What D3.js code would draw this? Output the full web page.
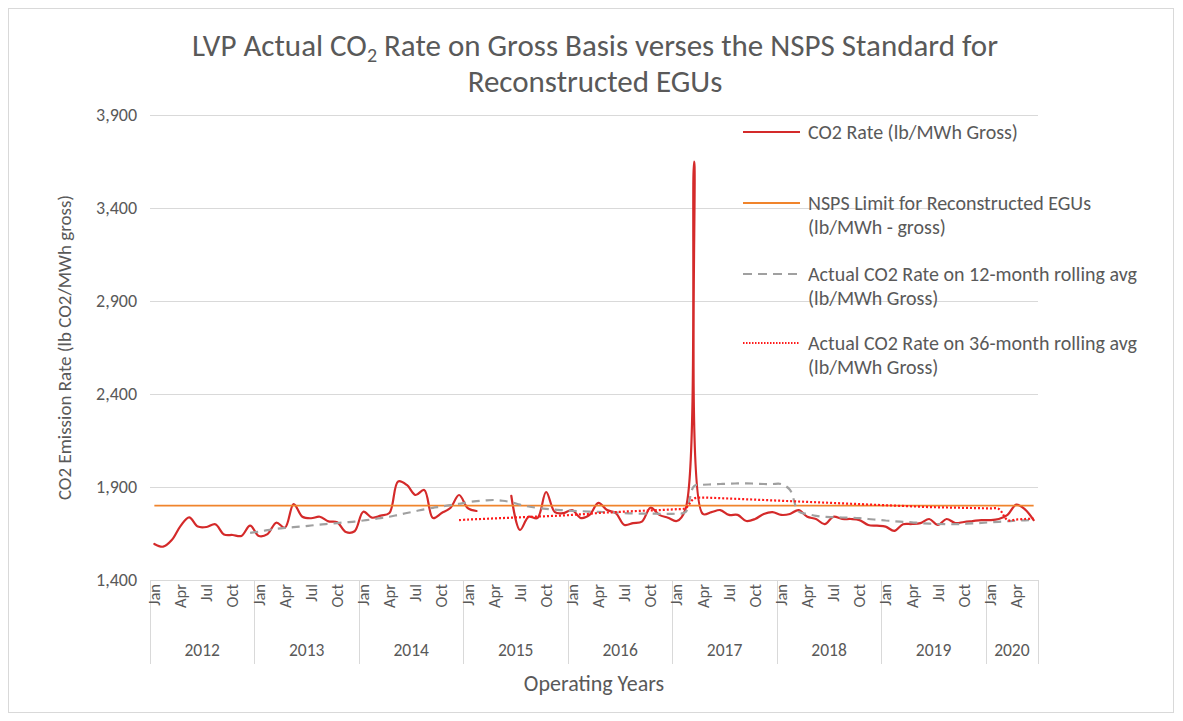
<!DOCTYPE html>
<html><head><meta charset="utf-8">
<script src="https://cdn.jsdelivr.net/npm/d3@7"></script>
<style>body{margin:0;background:#fff;} text{font-family:Carlito, Calibri, Lato, "Open Sans", sans-serif;}</style>
</head><body>
<svg id="chart" width="1183" height="721"></svg>
<script>
// ---------------- data ----------------
const years = [2012, 2013, 2014, 2015, 2016, 2017, 2018, 2019, 2020];
const monthsInYear = [12, 12, 12, 12, 12, 12, 12, 12, 6];
const monthNames = ["Jan","Feb","Mar","Apr","May","Jun","Jul","Aug","Sep","Oct","Nov","Dec"];
const shownMonthLabels = ["Jan","Apr","Jul","Oct"];
const yTicks = [1400, 1900, 2400, 2900, 3400, 3900];

// monthly CO2 rate (lb/MWh gross), Jan 2012 .. Jun 2020 ; null = no data
const co2Rate = [
  1594, 1579, 1615, 1690, 1737, 1687, 1685, 1700, 1645, 1642, 1637, 1692, // 2012
  1637, 1647, 1708, 1681, 1808, 1740, 1732, 1740, 1715, 1710, 1658, 1662, // 2013
  1767, 1735, 1746, 1760, 1930, 1911, 1857, 1884, 1733, 1760, 1787, 1857, // 2014
  1787, 1771, null, null, null, 1853, 1669, 1740, 1733, 1873, 1765, 1760, // 2015
  1776, 1733, 1750, 1815, 1776, 1760, 1696, 1706, 1714, 1789, 1750, 1735, // 2016
  1717, 1780, 3650, 1755, 1765, 1776, 1750, 1750, 1717, 1728, 1755, 1765, // 2017
  1750, 1755, 1776, 1740, 1728, 1700, 1740, 1728, 1728, 1722, 1696, 1692, // 2018
  1687, 1664, 1700, 1701, 1706, 1728, 1696, 1728, 1706, 1712, 1717, 1722, // 2019
  1722, 1728, 1750, 1805, 1780, 1722                                      // 2020
];

const nspsLimit = 1800;

// 12-month rolling average, starts Dec 2012 (month index 11)
const avg12Start = 11;
const avg12 = [
  1653,                                                                   // Dec 2012
  1660, 1668, 1675, 1680, 1684, 1688, 1693, 1698, 1702, 1706, 1710, 1714, // 2013
  1720, 1726, 1733, 1740, 1750, 1760, 1770, 1780, 1788, 1795, 1803, 1810, // 2014
  1818, 1824, 1828, 1830, 1826, 1818, 1805, 1795, 1788, 1782, 1778, 1775, // 2015
  1772, 1770, 1768, 1766, 1765, 1763, 1760, 1758, 1757, 1757, 1756, 1755, // 2016
  1757, 1765, 1905, 1912, 1914, 1916, 1918, 1919, 1920, 1918, 1916, 1916, // 2017
  1916, 1885, 1768, 1755, 1745, 1740, 1738, 1736, 1735, 1733, 1728, 1724, // 2018
  1720, 1716, 1713, 1710, 1706, 1703, 1701, 1700, 1700, 1702, 1704, 1707, // 2019
  1710, 1713, 1716, 1719, 1721, 1722                                      // 2020
];

// 36-month rolling average, starts Dec 2014 (month index 35)
const avg36Start = 35;
const avg36 = [
  1722,                                                                   // Dec 2014
  1725, 1727, 1729, 1731, 1733, 1735, 1737, 1739, 1741, 1743, 1745, 1747, // 2015
  1750, 1753, 1756, 1760, 1763, 1765, 1768, 1770, 1772, 1774, 1776, 1778, // 2016
  1781, 1786, 1838, 1843, 1842, 1840, 1838, 1836, 1834, 1832, 1830, 1828, // 2017
  1826, 1824, 1822, 1820, 1818, 1816, 1814, 1812, 1810, 1808, 1806, 1804, // 2018
  1802, 1800, 1798, 1796, 1794, 1792, 1791, 1790, 1789, 1788, 1787, 1786, // 2019
  1785, 1782, 1722, 1725, 1728, 1730                                      // 2020
];

const legendItems = [
  {key: "rate", lines: ["CO2 Rate (lb/MWh Gross)"]},
  {key: "nsps", lines: ["NSPS Limit for Reconstructed EGUs", "(lb/MWh - gross)"]},
  {key: "avg12", lines: ["Actual CO2 Rate on 12-month rolling avg", "(lb/MWh Gross)"]},
  {key: "avg36", lines: ["Actual CO2 Rate on 36-month rolling avg", "(lb/MWh Gross)"]}
];

// ---------------- build ----------------
const months = [];
years.forEach((yr, yi) => {
  for (let m = 0; m < monthsInYear[yi]; m++) months.push({year: yr, m: monthNames[m]});
});
const N = months.length;

const styles = {
  rate:  {stroke: "#D42A2A", width: 2.2, dash: null, cap: "round", legDash: null},
  nsps:  {stroke: "#F0842C", width: 1.8, dash: null, cap: "butt", legDash: null},
  avg12: {stroke: "#A0A0A0", width: 2.2, dash: "8,6", cap: "butt", legDash: "9,6"},
  avg36: {stroke: "#FF1A1A", width: 2.2, dash: "2,2", cap: "butt", legDash: "1.5,1.5"}
};

const svg = d3.select("#chart");
const textCol = "#595959";
const gridCol = "#D9D9D9";

// chart border
svg.append("rect").attr("x", 8.5).attr("y", 8.5).attr("width", 1165).attr("height", 704)
  .attr("fill", "#fff").attr("stroke", "#D9D9D9").attr("stroke-width", 1);

const plot = {left: 150, right: 1038, top: 115, bottom: 580};

const x = d3.scaleBand().domain(d3.range(N)).range([plot.left, plot.right]).padding(0);
const xc = i => x(i) + x.bandwidth() / 2;
const y = d3.scaleLinear().domain([1400, 3900]).range([plot.bottom, plot.top]);

// gridlines
svg.append("g").selectAll("line").data(yTicks).join("line")
  .attr("x1", plot.left).attr("x2", plot.right)
  .attr("y1", d => Math.round(y(d)) + 0.5).attr("y2", d => Math.round(y(d)) + 0.5)
  .attr("stroke", gridCol).attr("stroke-width", 1);

// y tick labels
svg.append("g").selectAll("text").data(yTicks).join("text")
  .attr("x", 137).attr("y", d => y(d)).attr("dy", "0.35em")
  .attr("text-anchor", "end").attr("fill", textCol).attr("font-size", 18)
  .text(d3.format(","));

// y axis title
svg.append("text")
  .attr("transform", `translate(71,${(plot.top + plot.bottom) / 2}) rotate(-90)`)
  .attr("text-anchor", "middle").attr("fill", textCol).attr("font-size", 19)
  .text("CO2 Emission Rate (lb CO2/MWh gross)");

// x axis: year separators
const yearStarts = [];
let acc = 0;
monthsInYear.forEach(c => { yearStarts.push(acc); acc += c; });
const sepX = yearStarts.map(s => x(s)).concat([plot.right]);
svg.append("g").selectAll("line").data(sepX).join("line")
  .attr("x1", d => Math.round(d) + 0.5).attr("x2", d => Math.round(d) + 0.5)
  .attr("y1", plot.bottom).attr("y2", 664)
  .attr("stroke", gridCol).attr("stroke-width", 1);

// month labels
const monthIdx = d3.range(N).filter(i => shownMonthLabels.includes(months[i].m));
svg.append("g").selectAll("text").data(monthIdx).join("text")
  .attr("transform", i => `translate(${xc(i)},584) rotate(-90)`)
  .attr("dy", "0.35em").attr("text-anchor", "end")
  .attr("fill", textCol).attr("font-size", 16.5)
  .text(i => months[i].m);

// year labels
svg.append("g").selectAll("text").data(years).join("text")
  .attr("x", (d, i) => (x(yearStarts[i]) + x(yearStarts[i] + monthsInYear[i] - 1) + x.bandwidth()) / 2)
  .attr("y", 650).attr("dy", "0.35em").attr("text-anchor", "middle")
  .attr("fill", textCol).attr("font-size", 17.5)
  .text(d => d);

// x axis title
svg.append("text").attr("x", (plot.left + plot.right) / 2).attr("y", 683).attr("dy", "0.35em")
  .attr("text-anchor", "middle").attr("fill", textCol).attr("font-size", 22)
  .text("Operating Years");

// title
const title = svg.append("text").attr("text-anchor", "middle").attr("fill", textCol).attr("font-size", 31);
const t1 = title.append("tspan").attr("x", 595).attr("y", 56);
t1.append("tspan").text("LVP Actual CO");
t1.append("tspan").attr("font-size", 20).attr("dy", 6).text("2");
t1.append("tspan").attr("dy", -6).text(" Rate on Gross Basis verses the NSPS Standard for");
title.append("tspan").attr("x", 595).attr("y", 92).text("Reconstructed EGUs");

// series
const line = d3.line()
  .defined(d => d.v != null)
  .x(d => xc(d.i)).y(d => y(d.v))
  .curve(d3.curveCatmullRom.alpha(0.5));

function drawSeries(values, start, st) {
  const data = values.map((v, k) => ({i: start + k, v}));
  svg.append("path").datum(data)
    .attr("fill", "none").attr("stroke", st.stroke).attr("stroke-width", st.width)
    .attr("stroke-dasharray", st.dash).attr("stroke-linecap", st.cap)
    .attr("stroke-linejoin", "round")
    .attr("d", line);
}
drawSeries(co2Rate, 0, styles.rate);
drawSeries(months.map(() => nspsLimit), 0, styles.nsps);
drawSeries(avg12, avg12Start, styles.avg12);
drawSeries(avg36, avg36Start, styles.avg36);

// legend
const legY = [132, 203, 274, 343];
const lg = svg.append("g");
legendItems.forEach((it, k) => {
  const st = styles[it.key];
  lg.append("line").attr("x1", 743).attr("x2", 800).attr("y1", legY[k]).attr("y2", legY[k])
    .attr("stroke", st.stroke).attr("stroke-width", it.key === "avg36" ? 2 : st.width)
    .attr("stroke-dasharray", st.legDash);
  it.lines.forEach((txt, j) => {
    lg.append("text").attr("x", 808).attr("y", legY[k] + j * 24).attr("dy", "0.35em")
      .attr("fill", textCol).attr("font-size", 20).text(txt);
  });
});
</script>
</body></html>
